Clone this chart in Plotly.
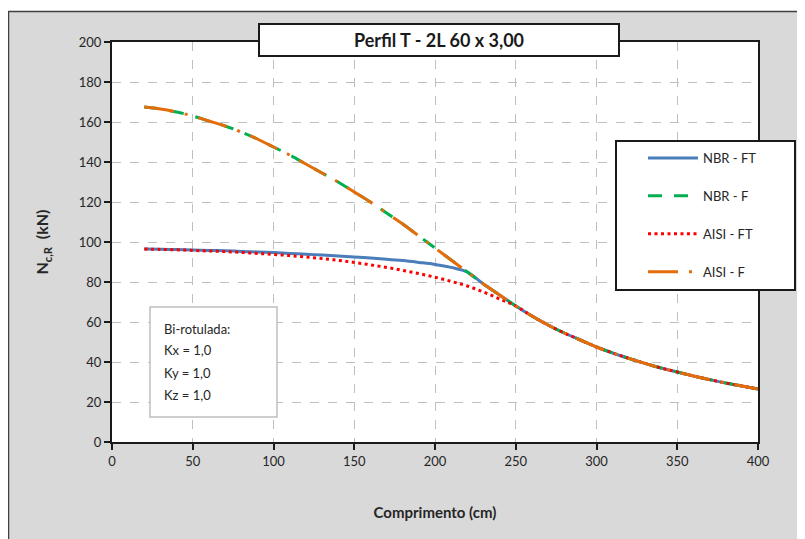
import plotly.graph_objects as go

# ---------------- data ----------------
comprimento = [20, 30, 40, 50, 60, 70, 80, 90, 100, 110, 120, 130, 140, 150, 160, 170, 180,
               190, 200, 210, 220, 230, 240, 250, 260, 270, 280, 290, 300, 310, 320, 330,
               340, 350, 360, 370, 380, 390, 400]

nbr_f = [167.5, 166.5, 165.0, 163.0, 160.5, 158.0, 155.0, 151.5, 147.5, 143.5, 139.0, 134.5,
         130.0, 125.0, 120.0, 114.5, 109.0, 103.0, 97.0, 91.0, 85.0, 79.0, 73.5, 68.0, 63.0,
         58.5, 54.5, 51.0, 47.5, 44.5, 41.8, 39.3, 37.0, 35.0, 33.0, 31.2, 29.5, 28.0, 26.5]

nbr_ft = [96.5, 96.4, 96.2, 96.0, 95.8, 95.6, 95.3, 95.0, 94.7, 94.3, 93.9, 93.5, 93.0, 92.5,
          92.0, 91.4, 90.7, 89.8, 88.8, 87.3, 85.0, 79.0, 73.5, 68.0, 63.0, 58.5, 54.5, 51.0,
          47.5, 44.5, 41.8, 39.3, 37.0, 35.0, 33.0, 31.2, 29.5, 28.0, 26.5]

aisi_ft = [96.5, 96.3, 96.1, 95.8, 95.5, 95.2, 94.8, 94.3, 93.8, 93.2, 92.5, 91.7, 90.8, 89.8,
           88.6, 87.3, 85.8, 84.2, 82.4, 80.3, 78.0, 75.0, 71.5, 68.0, 63.0, 58.5, 54.5, 51.0,
           47.5, 44.5, 41.8, 39.3, 37.0, 35.0, 33.0, 31.2, 29.5, 28.0, 26.5]

aisi_f = [167.5, 166.5, 165.0, 163.0, 160.5, 158.0, 155.0, 151.5, 147.5, 143.5, 139.0, 134.5,
          130.0, 125.0, 120.0, 114.5, 109.0, 103.0, 97.0, 91.0, 85.0, 79.0, 73.5, 68.0, 63.0,
          58.5, 54.5, 51.0, 47.5, 44.5, 41.8, 39.3, 37.0, 35.0, 33.0, 31.2, 29.5, 28.0, 26.5]

series_names = ["NBR - FT", "NBR - F", "AISI - FT", "AISI - F"]
x_ticks = [0, 50, 100, 150, 200, 250, 300, 350, 400]
y_ticks = [0, 20, 40, 60, 80, 100, 120, 140, 160, 180, 200]

# ---------------- layout helpers ----------------
# The page body adds an 8px margin, so the figure starts at page (8, 8).
OFF = 8
W, H = 805 - OFF, 539 - OFF
L, R, T, B = 112 - OFF, 758 - OFF, 42 - OFF, 442 - OFF


def px_x(p):  # page pixel -> paper
    return (p - OFF - L) / (R - L)


def px_y(p):
    return (B - (p - OFF)) / (B - T)


FONT = "Lato"
TXT = "#262626"

fig = go.Figure()

styles = [
    dict(color="#4a7ebb", width=3, dash="solid"),
    dict(color="#00b050", width=3, dash="14px,12px"),
    dict(color="#ff0000", width=3, dash="3px,3.5px"),
    dict(color="#e46c0a", width=3, dash="30px,11px,3px,11px"),
]
data_series = [nbr_ft, nbr_f, aisi_ft, aisi_f]
for i, (name, ys, st) in enumerate(zip(series_names, data_series, styles)):
    fig.add_trace(go.Scatter(
        x=comprimento, y=ys, mode="lines", name=name,
        line=dict(color=st["color"], width=st["width"], dash=st["dash"], shape="spline"),
        legendgroup=f"g{i}",
    ))

shapes = [
    # grey chart area with border
    dict(type="rect", xref="paper", yref="paper", layer="below",
         x0=px_x(8.5), x1=px_x(812), y0=px_y(545), y1=px_y(11.5),
         fillcolor="#d9d9d9", line=dict(color="#404040", width=1.5)),
    # white plot area
    dict(type="rect", xref="paper", yref="paper", layer="below",
         x0=0, x1=1, y0=0, y1=1, fillcolor="white", line=dict(width=0)),
    # legend box
    dict(type="rect", xref="paper", yref="paper", layer="above",
         x0=px_x(616), x1=px_x(795), y0=px_y(290), y1=px_y(141),
         fillcolor="white", line=dict(color="#1a1a1a", width=2)),
    # note box
    dict(type="rect", xref="paper", yref="paper", layer="above",
         x0=px_x(150), x1=px_x(277), y0=px_y(417), y1=px_y(307),
         fillcolor="white", line=dict(color="#bfbfbf", width=1.5)),
]

annotations = [
    dict(text="<b>Perfil T - 2L 60 x 3,00</b>", xref="paper", yref="paper",
         x=px_x(439), y=px_y(40), xanchor="center", yanchor="middle", showarrow=False,
         font=dict(family=FONT, size=18, color="#1a1a1a"),
         bgcolor="white", bordercolor="#1a1a1a", borderwidth=2, borderpad=0,
         width=358, height=30),
]
note_lines = ["Bi-rotulada:", "Kx = 1,0", "Ky = 1,0", "Kz = 1,0"]
note_y = [329, 350, 373, 395]
for t, yy in zip(note_lines, note_y):
    annotations.append(dict(text=t, xref="paper", yref="paper", x=px_x(162), y=px_y(yy),
                            xanchor="left", yanchor="middle", showarrow=False,
                            font=dict(family=FONT, size=13, color=TXT)))

axis_common = dict(
    showline=True, linecolor="#1a1a1a", linewidth=2, mirror=True,
    ticks="outside", ticklen=6, tickcolor="#1a1a1a", tickwidth=1.5,
    showgrid=True, gridcolor="#bfbfbf", gridwidth=1.2, griddash="dash",
    zeroline=False, tickfont=dict(family=FONT, size=13, color=TXT),
)

fig.update_layout(
    width=W, height=H,
    margin=dict(l=L, r=W - R, t=T, b=H - B, pad=0),
    paper_bgcolor="white", plot_bgcolor="white",
    showlegend=True,
    legend=dict(x=px_x(643), y=px_y(143), xanchor="left", yanchor="top",
                bgcolor="rgba(0,0,0,0)", borderwidth=0, tracegroupgap=18,
                font=dict(family=FONT, size=13, color=TXT), itemwidth=50),
    xaxis=dict(range=[0, 400], tickvals=x_ticks, **axis_common,
               title=dict(text="<b>Comprimento (cm)</b>", standoff=40,
                          font=dict(family=FONT, size=15, color=TXT))),
    yaxis=dict(range=[0, 200], tickvals=y_ticks, **axis_common,
               title=dict(text="<b>N<sub>c,R</sub>  (kN)</b>", standoff=26,
                          font=dict(family=FONT, size=16, color=TXT))),
    shapes=shapes,
    annotations=annotations,
)

fig.write_html("out.html")
